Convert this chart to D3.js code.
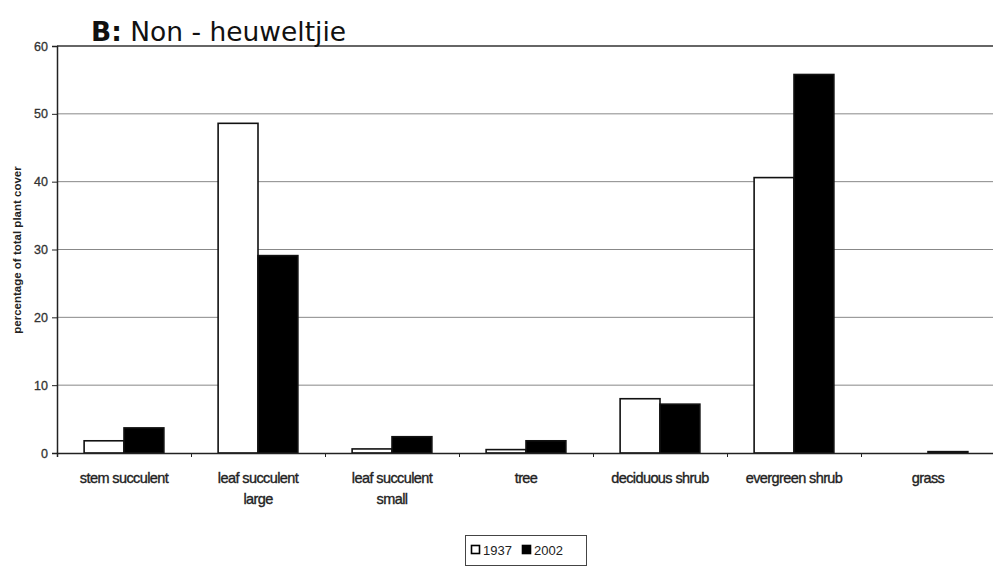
<!DOCTYPE html>
<html><head><meta charset="utf-8">
<script src="https://cdn.jsdelivr.net/npm/d3@7"></script>
<style>body{margin:0;background:#fff}svg{display:block}</style>
</head><body>
<svg id="c" width="993" height="567"></svg>
<script>
const categories = [["stem succulent"],["leaf succulent","large"],["leaf succulent","small"],["tree"],["deciduous shrub"],["evergreen shrub"],["grass"]];
const series = ["1937","2002"];
const v1937 = [1.8, 48.6, 0.6, 0.5, 8.0, 40.6, 0];
const v2002 = [3.7, 29.1, 2.4, 1.8, 7.2, 55.8, 0.2];
const yTicks = [0,10,20,30,40,50,60];

const svg = d3.select("#c");
const L = 57, R = 995, T = 46, B = 453;
const FONT = "Liberation Sans, Arial, sans-serif";
const x = d3.scaleBand().domain(d3.range(categories.length)).range([L, R]).paddingInner(0).paddingOuter(0);
const xs = d3.scaleBand().domain(series).range([0, x.bandwidth()]).paddingInner(0).paddingOuter(0.68);
const y = d3.scaleLinear().domain([0, 60]).range([B, T]);

// grid
svg.append("g").selectAll("line").data(yTicks.filter(d=>d>0)).join("line")
  .attr("x1", L).attr("x2", 993).attr("y1", d=>y(d)).attr("y2", d=>y(d))
  .attr("stroke", d=> d===60 ? "#333" : "#888").attr("stroke-width", d=>d===60?1.5:1);

// bars
const data = [v1937, v2002];
data.forEach((vals, si) => {
  svg.append("g").selectAll("rect").data(vals).join("rect")
    .attr("x", (d,i)=> x(i) + xs(series[si]))
    .attr("y", d=> y(d))
    .attr("width", xs.bandwidth())
    .attr("height", d=> B - y(d))
    .attr("fill", si===0 ? "#fff" : "#000")
    .attr("stroke", d => d>0 ? "#111" : "none").attr("stroke-width", 1.6);
});

// y axis
const ya = svg.append("g").attr("transform", `translate(${L},0)`)
  .call(d3.axisLeft(y).tickValues(yTicks).tickSize(5).tickPadding(4));
ya.select(".domain").attr("stroke","#222").attr("stroke-width",1.5);
ya.selectAll("line").attr("stroke","#222");
ya.selectAll("text").attr("font-family",FONT).attr("font-size",12.5).attr("fill","#333")
  .attr("stroke","#333").attr("stroke-width",0.3);

// x axis
const xa = svg.append("g").attr("transform", `translate(0,${B})`)
  .call(d3.axisBottom(d3.scaleLinear().domain([0,7]).range([L,R])).tickValues(d3.range(0,8)).tickSize(4).tickFormat(""));
xa.select(".domain").attr("stroke","#222").attr("stroke-width",1.5);
xa.selectAll("line").attr("stroke","#222");

svg.append("g").selectAll("text").data(categories).join("text")
  .attr("x", (d,i)=> x(i) + x.bandwidth()/2).attr("y", 483)
  .attr("text-anchor","middle").attr("font-family",FONT)
  .attr("font-size",14.5).attr("letter-spacing","-0.6").attr("fill","#222")
  .attr("stroke","#222").attr("stroke-width",0.35)
  .each(function(d){
    const t = d3.select(this);
    d.forEach((s,k)=> t.append("tspan").attr("x", t.attr("x")).attr("dy", k===0?0:21).text(s));
  });

// y label
svg.append("text").attr("transform","translate(21,250) rotate(-90)")
  .attr("text-anchor","middle").attr("font-family",FONT)
  .attr("font-size",11.5).attr("font-weight","bold").attr("fill","#222")
  .text("percentage of total plant cover");

// title
const title = svg.append("text").attr("x", 91).attr("y", 41)
  .attr("font-family","Verdana, DejaVu Sans, sans-serif").attr("font-size",26.5).attr("fill","#111");
title.append("tspan").attr("font-weight","bold").text("B:");
title.append("tspan").text(" Non - heuweltjie");

// legend
const lg = svg.append("g");
lg.append("rect").attr("x",465.5).attr("y",535.5).attr("width",121).attr("height",30).attr("fill","#fff").attr("stroke","#444");
series.forEach((s,i)=>{
  const gx = 471 + i*51;
  lg.append("rect").attr("x",gx+0.5).attr("y",545.5).attr("width",8).attr("height",8)
    .attr("fill", i===0?"#fff":"#000").attr("stroke","#000").attr("stroke-width",1.6);
  lg.append("text").attr("x",gx+12).attr("y",555).attr("font-family",FONT)
    .attr("font-size",13).attr("fill","#222").text(s);
});
</script>
</body></html>
